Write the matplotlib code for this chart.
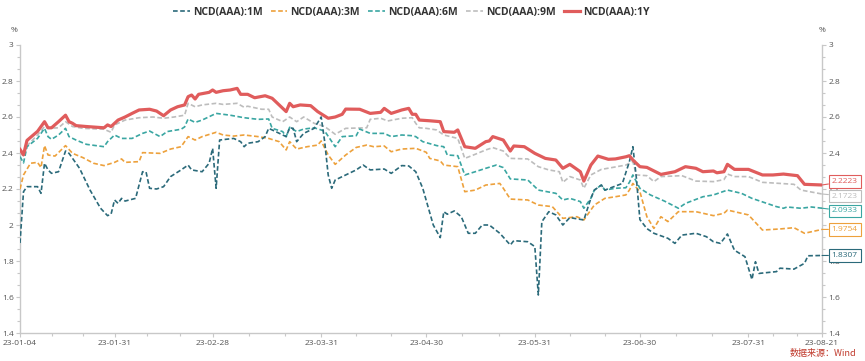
import matplotlib
matplotlib.use("Agg")
import matplotlib.pyplot as plt
import matplotlib.dates as mdates
from matplotlib.ticker import FuncFormatter, MultipleLocator, FixedLocator
import pandas as pd

# ---------------- data ----------------
dates_1y = ["01-04","01-05","01-06","01-09","01-11","01-12","01-13","01-15","01-17","01-18","01-19","01-20",
            "01-23","01-28","01-29","01-30","02-01","02-03","02-05","02-07","02-10","02-12","02-14","02-16",
            "02-18","02-20","02-21","02-22","02-23","02-24","02-27","02-28","03-01","03-03","03-05","03-07",
            "03-08","03-10","03-12","03-15","03-17","03-19","03-21","03-22","03-23","03-25","03-28","03-30",
            "04-02","04-04","04-06","04-07","04-11","04-14","04-17","04-18","04-20","04-23","04-25","04-26",
            "04-27","04-28","05-01","05-04","05-05","05-08","05-09","05-11","05-14","05-17","05-18","05-19",
            "05-22","05-24","05-25","05-28","05-31","06-03","06-06","06-08","06-10","06-13","06-14","06-16",
            "06-18","06-21","06-23","06-26","06-27","06-28","06-30","07-02","07-06","07-10","07-13","07-16",
            "07-18","07-21","07-22","07-24","07-25","07-27","07-31","08-04","08-07","08-10","08-14","08-16","08-21"]
rate_1y = [2.42,2.39,2.47,2.52,2.574,2.54,2.54,2.574,2.61,2.574,2.565,2.552,
           2.547,2.54,2.556,2.547,2.583,2.60,2.62,2.639,2.643,2.633,2.607,2.639,
           2.657,2.667,2.713,2.722,2.70,2.726,2.737,2.75,2.737,2.746,2.75,2.759,
           2.726,2.726,2.707,2.718,2.704,2.667,2.63,2.676,2.657,2.667,2.663,2.63,
           2.593,2.60,2.615,2.644,2.643,2.62,2.626,2.648,2.62,2.639,2.648,2.615,
           2.615,2.583,2.579,2.574,2.519,2.515,2.528,2.435,2.426,2.463,2.467,2.491,
           2.472,2.411,2.439,2.435,2.398,2.37,2.361,2.315,2.337,2.296,2.244,2.333,
           2.383,2.365,2.367,2.379,2.385,2.361,2.324,2.32,2.281,2.296,2.324,2.315,
           2.296,2.30,2.29,2.296,2.337,2.309,2.309,2.278,2.278,2.283,2.274,2.226,2.2223]

dates_9m = ["01-04","01-05","01-06","01-09","01-11","01-12","01-15","01-17","01-19","01-22","01-28","01-30",
            "01-31","02-03","02-07","02-11","02-14","02-17","02-20","02-21","02-23","02-25","03-01","03-03",
            "03-07","03-09","03-10","03-14","03-16","03-17","03-20","03-22","03-24","03-26","03-29","04-01",
            "04-04","04-07","04-13","04-14","04-17","04-19","04-23","04-26","04-27","04-28","04-30","05-03",
            "05-05","05-09","05-11","05-14","05-17","05-19","05-22","05-24","05-29","06-01","06-04","06-07",
            "06-08","06-10","06-13","06-14","06-16","06-19","06-22","06-26","06-27","06-28","06-29","07-02",
            "07-04","07-06","07-12","07-16","07-21","07-24","07-25","07-27","07-31","08-04","08-09","08-13",
            "08-15","08-21"]
rate_9m = [2.40,2.385,2.44,2.50,2.547,2.537,2.54,2.574,2.547,2.537,2.532,2.515,
           2.556,2.583,2.596,2.60,2.593,2.60,2.61,2.676,2.657,2.667,2.676,2.67,
           2.676,2.654,2.66,2.643,2.643,2.60,2.574,2.60,2.574,2.60,2.565,2.547,
           2.504,2.537,2.54,2.587,2.593,2.578,2.593,2.596,2.565,2.54,2.537,2.528,
           2.50,2.481,2.37,2.393,2.417,2.43,2.411,2.37,2.367,2.324,2.306,2.296,
           2.237,2.269,2.25,2.204,2.278,2.309,2.319,2.333,2.343,2.352,2.278,2.274,
           2.241,2.269,2.274,2.244,2.241,2.252,2.283,2.269,2.269,2.237,2.231,2.226,
           2.194,2.1723]

dates_6m = ["01-04","01-05","01-06","01-09","01-11","01-12","01-13","01-15","01-17","01-18","01-20","01-23",
            "01-28","01-29","01-31","02-02","02-05","02-08","02-10","02-13","02-15","02-19","02-20","02-21",
            "02-23","02-25","03-01","03-03","03-05","03-09","03-13","03-16","03-17","03-20","03-21","03-22",
            "03-24","03-26","03-29","04-01","04-04","04-06","04-10","04-11","04-14","04-18","04-20","04-23",
            "04-26","04-27","04-29","05-03","05-05","05-06","05-09","05-11","05-14","05-17","05-20","05-22",
            "05-24","05-29","06-01","06-06","06-08","06-10","06-13","06-14","06-16","06-17","06-19","06-20",
            "06-23","06-26","06-27","06-28","06-30","07-03","07-07","07-11","07-13","07-18","07-21","07-25",
            "07-29","08-01","08-08","08-10","08-11","08-15","08-18","08-21"]
rate_6m = [2.38,2.345,2.435,2.481,2.537,2.491,2.476,2.50,2.537,2.491,2.472,2.448,
           2.435,2.463,2.50,2.481,2.481,2.509,2.522,2.491,2.519,2.532,2.545,2.589,
           2.57,2.583,2.62,2.615,2.61,2.596,2.587,2.589,2.537,2.519,2.491,2.543,
           2.519,2.533,2.54,2.522,2.435,2.491,2.496,2.533,2.509,2.509,2.491,2.50,
           2.496,2.491,2.463,2.441,2.435,2.389,2.385,2.278,2.296,2.315,2.333,2.319,
           2.256,2.25,2.194,2.176,2.139,2.148,2.13,2.093,2.148,2.194,2.222,2.194,
           2.204,2.207,2.237,2.278,2.204,2.167,2.133,2.093,2.12,2.157,2.167,2.194,
           2.176,2.148,2.102,2.093,2.10,2.093,2.10,2.0933]

dates_3m = ["01-04","01-05","01-07","01-09","01-10","01-11","01-12","01-14","01-17","01-19","01-22","01-25",
            "01-28","01-31","02-02","02-03","02-07","02-08","02-13","02-16","02-19","02-21","02-23","02-25",
            "03-01","03-03","03-06","03-09","03-13","03-16","03-19","03-21","03-22","03-24","03-27","03-30",
            "03-31","04-02","04-04","04-07","04-10","04-13","04-15","04-18","04-20","04-23","04-27","04-30",
            "05-01","05-04","05-05","05-09","05-11","05-14","05-17","05-21","05-22","05-24","05-29","06-01",
            "06-05","06-08","06-12","06-14","06-15","06-17","06-20","06-23","06-26","06-27","06-28","06-30",
            "07-02","07-04","07-06","07-08","07-11","07-16","07-21","07-24","07-25","07-31","08-04","08-09",
            "08-13","08-16","08-21"]
rate_3m = [2.20,2.278,2.343,2.348,2.319,2.441,2.389,2.383,2.441,2.398,2.374,2.343,
           2.33,2.348,2.367,2.348,2.352,2.402,2.398,2.422,2.435,2.491,2.472,2.491,
           2.515,2.50,2.494,2.50,2.491,2.481,2.463,2.417,2.463,2.422,2.435,2.444,
           2.467,2.389,2.337,2.389,2.431,2.444,2.435,2.439,2.407,2.422,2.426,2.404,
           2.37,2.356,2.333,2.324,2.185,2.194,2.222,2.231,2.204,2.144,2.139,2.111,
           2.102,2.037,2.046,2.028,2.056,2.111,2.148,2.157,2.167,2.194,2.231,2.185,
           2.046,1.981,2.046,2.019,2.074,2.074,2.052,2.065,2.083,2.056,1.972,1.978,
           1.985,1.954,1.9754]

dates_1m = ["01-04","01-05","01-06","01-09","01-10","01-11","01-12","01-13","01-15","01-17","01-18","01-21",
            "01-24","01-27","01-29","01-30","01-31","02-01","02-02","02-03","02-06","02-08","02-09","02-10",
            "02-12","02-14","02-16","02-19","02-21","02-22","02-25","02-27","02-28","03-01","03-02","03-06",
            "03-08","03-09","03-10","03-13","03-15","03-16","03-18","03-21","03-22","03-23","03-24","03-26",
            "03-29","03-31","04-01","04-02","04-03","04-04","04-07","04-10","04-12","04-14","04-18","04-20",
            "04-23","04-25","04-27","04-29","05-02","05-04","05-05","05-06","05-08","05-10","05-12","05-14",
            "05-16","05-18","05-21","05-24","05-25","05-29","05-31","06-01","06-02","06-04","06-06","06-08",
            "06-10","06-14","06-16","06-17","06-19","06-20","06-25","06-27","06-28","06-29","06-30","07-02",
            "07-04","07-08","07-10","07-12","07-16","07-19","07-21","07-23","07-25","07-27","07-30","08-01",
            "08-02","08-03","08-08","08-09","08-13","08-16","08-17","08-21"]
rate_1m = [1.90,2.185,2.213,2.213,2.176,2.343,2.306,2.287,2.296,2.411,2.398,2.315,
           2.194,2.093,2.052,2.06,2.139,2.12,2.148,2.133,2.148,2.296,2.294,2.204,
           2.20,2.213,2.269,2.306,2.333,2.306,2.296,2.343,2.426,2.204,2.472,2.481,
           2.463,2.435,2.454,2.463,2.491,2.537,2.519,2.491,2.54,2.537,2.463,2.509,
           2.537,2.60,2.463,2.278,2.204,2.25,2.278,2.306,2.333,2.306,2.311,2.287,
           2.33,2.328,2.296,2.204,2.0,1.93,2.074,2.06,2.078,2.046,1.954,1.954,
           2.0,2.0,1.954,1.889,1.913,1.907,1.88,1.611,2.018,2.074,2.056,2.0,
           2.041,2.028,2.148,2.194,2.222,2.194,2.231,2.352,2.435,2.26,2.03,1.98,
           1.954,1.926,1.898,1.944,1.954,1.935,1.907,1.898,1.95,1.86,1.824,1.697,
           1.796,1.731,1.741,1.76,1.755,1.787,1.829,1.8307]

series_names = ["NCD(AAA):1M", "NCD(AAA):3M", "NCD(AAA):6M", "NCD(AAA):9M", "NCD(AAA):1Y"]
tick_dates = ["2023-01-04", "2023-01-31", "2023-02-28", "2023-03-31", "2023-04-30",
              "2023-05-31", "2023-06-30", "2023-07-31", "2023-08-21"]
y_ticks = [1.4, 1.6, 1.8, 2.0, 2.2, 2.4, 2.6, 2.8, 3.0]
source_text = "数据来源：Wind"

# ---------------- style ----------------
FONT = ["Open Sans", "Noto Sans CJK SC", "DejaVu Sans"]
plt.rcParams["font.family"] = FONT
colors = ["#2b6a7a", "#eda13c", "#3aa6a2", "#bdbdbd", "#e05c5c"]
axis_col = "#c8c8c8"
tick_col = "#555555"

def to_dt(lst):
    return pd.to_datetime(["2023-" + s for s in lst])

all_dates = [dates_1m, dates_3m, dates_6m, dates_9m, dates_1y]
all_rates = [rate_1m, rate_3m, rate_6m, rate_9m, rate_1y]

fig = plt.figure(figsize=(8.65, 3.61), dpi=100)
ax = fig.add_axes([20/865, 28/361, 802/865, 288/361])

for i, (d, r) in enumerate(zip(all_dates, all_rates)):
    x = to_dt(d)
    if i == 4:
        ax.plot(x, r, color=colors[i], lw=2.3, label=series_names[i], zorder=6,
                solid_joinstyle="round")
    else:
        ln, = ax.plot(x, r, color=colors[i], lw=1.2, label=series_names[i], zorder=5 - i)
        ln.set_dashes((2.8, 1.5))

t0 = pd.Timestamp(tick_dates[0]); t1 = pd.Timestamp(tick_dates[-1])
ax.set_xlim(t0, t1)
ax.set_ylim(y_ticks[0], y_ticks[-1])

# x ticks
major = pd.to_datetime(tick_dates)
ax.xaxis.set_major_locator(FixedLocator(mdates.date2num(major)))
ax.xaxis.set_major_formatter(FuncFormatter(lambda v, p: mdates.num2date(v).strftime("%y-%m-%d")))
mnum = mdates.date2num(major)
minors = []
for a, b in zip(mnum[:-1], mnum[1:]):
    minors += [a + (b - a) / 3, a + 2 * (b - a) / 3]
ax.xaxis.set_minor_locator(FixedLocator(minors))

# y ticks both sides
ax.yaxis.set_major_locator(FixedLocator(y_ticks))
ax.yaxis.set_minor_locator(MultipleLocator(0.2 / 3))
ax.yaxis.set_major_formatter(FuncFormatter(lambda v, p: "%g" % round(v, 2)))
ax.tick_params(axis="both", which="both", direction="out", color=axis_col, labelcolor=tick_col,
               labelsize=6, width=0.8)
ax.tick_params(axis="y", which="both", left=True, right=True, labelleft=True, labelright=True, pad=1.5)
ax.tick_params(axis="y", which="major", length=3)
ax.tick_params(axis="y", which="minor", length=2)
ax.tick_params(axis="x", which="major", length=3, pad=2)
ax.tick_params(axis="x", which="minor", length=2)

for s in ["left", "right", "bottom"]:
    ax.spines[s].set_color(axis_col)
    ax.spines[s].set_linewidth(1.0)
ax.spines["top"].set_visible(False)

ax.text(-0.003, 1.05, "%", transform=ax.transAxes, fontsize=6, color=tick_col, ha="right", va="center")
ax.text(1.0, 1.05, "%", transform=ax.transAxes, fontsize=6, color=tick_col, ha="center", va="center")

# end labels
label_offsets = [0, 0, -2, -1.5, 2.5]
for i in range(5):
    v = all_rates[i][-1]
    ax.annotate("%.4f" % v, xy=(1.0, v), xycoords=("axes fraction", "data"),
                xytext=(7, label_offsets[i]), textcoords="offset points",
                ha="left", va="center", fontsize=6, color=colors[i],
                bbox=dict(boxstyle="square,pad=0.35", fc="white", ec=colors[i], lw=0.8),
                arrowprops=dict(arrowstyle="-", color=colors[i], lw=0.8, shrinkA=0, shrinkB=0),
                annotation_clip=False, zorder=10)

# legend
leg = fig.legend(loc="center", bbox_to_anchor=(0.4757, 0.966), ncol=5, frameon=False,
                 handlelength=1.6, handletextpad=0.3, columnspacing=0.8,
                 prop={"weight": "bold", "size": 7.5, "family": FONT})
for t in leg.get_texts():
    t.set_color("#333333")

fig.text(0.99, 0.022, source_text, ha="right", va="center", fontsize=6.5, color="#c0392b",
         family=["Noto Sans CJK SC", "DejaVu Sans"])

fig.savefig("out.png", dpi=100)
